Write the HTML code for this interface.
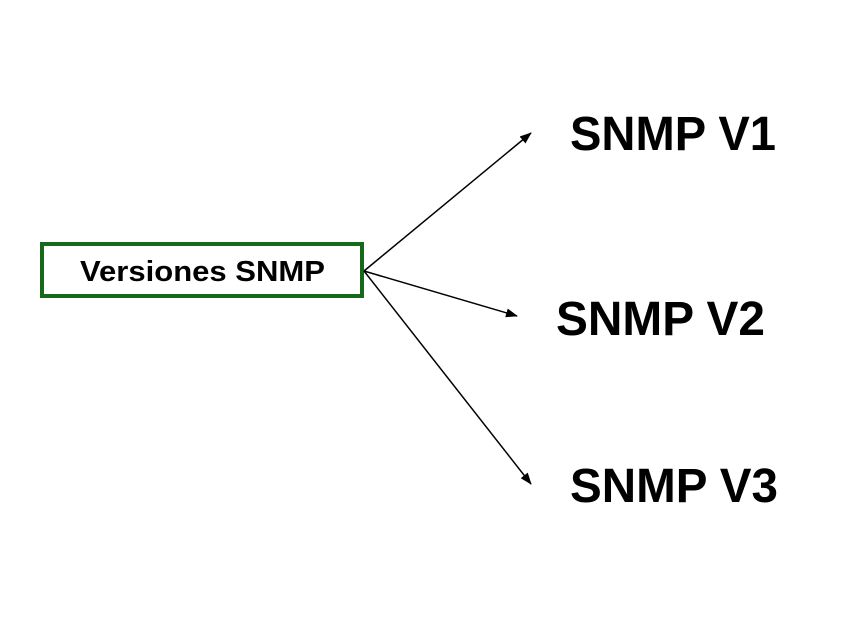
<!DOCTYPE html>
<html><head><style>
body{margin:0;background:#fff;width:862px;height:624px;overflow:hidden}
</style></head><body>
<svg width="862" height="624" xmlns="http://www.w3.org/2000/svg" font-family="Liberation Sans, Arial, sans-serif" font-weight="bold">
<defs><marker id="a" markerWidth="12" markerHeight="9" refX="11" refY="4.5" orient="auto" markerUnits="userSpaceOnUse"><path d="M0,0 L12,4.5 L0,9 z" fill="#000"/></marker></defs>
<rect x="42" y="244" width="320" height="52" fill="#fff" stroke="#17691a" stroke-width="4"/>
<text x="80" y="281" font-size="29" textLength="245" lengthAdjust="spacingAndGlyphs" fill="#000">Versiones SNMP</text>
<g stroke="#000" stroke-width="1.5" marker-end="url(#a)">
<line x1="364" y1="271" x2="531" y2="133"/>
<line x1="364" y1="271" x2="517" y2="316"/>
<line x1="364" y1="271" x2="531" y2="484"/>
</g>
<text x="570" y="150" font-size="48" textLength="206" lengthAdjust="spacingAndGlyphs" fill="#000">SNMP V1</text>
<text x="556" y="335" font-size="48" textLength="209" lengthAdjust="spacingAndGlyphs" fill="#000">SNMP V2</text>
<text x="570" y="502" font-size="48" textLength="208" lengthAdjust="spacingAndGlyphs" fill="#000">SNMP V3</text>
</svg>
</body></html>
